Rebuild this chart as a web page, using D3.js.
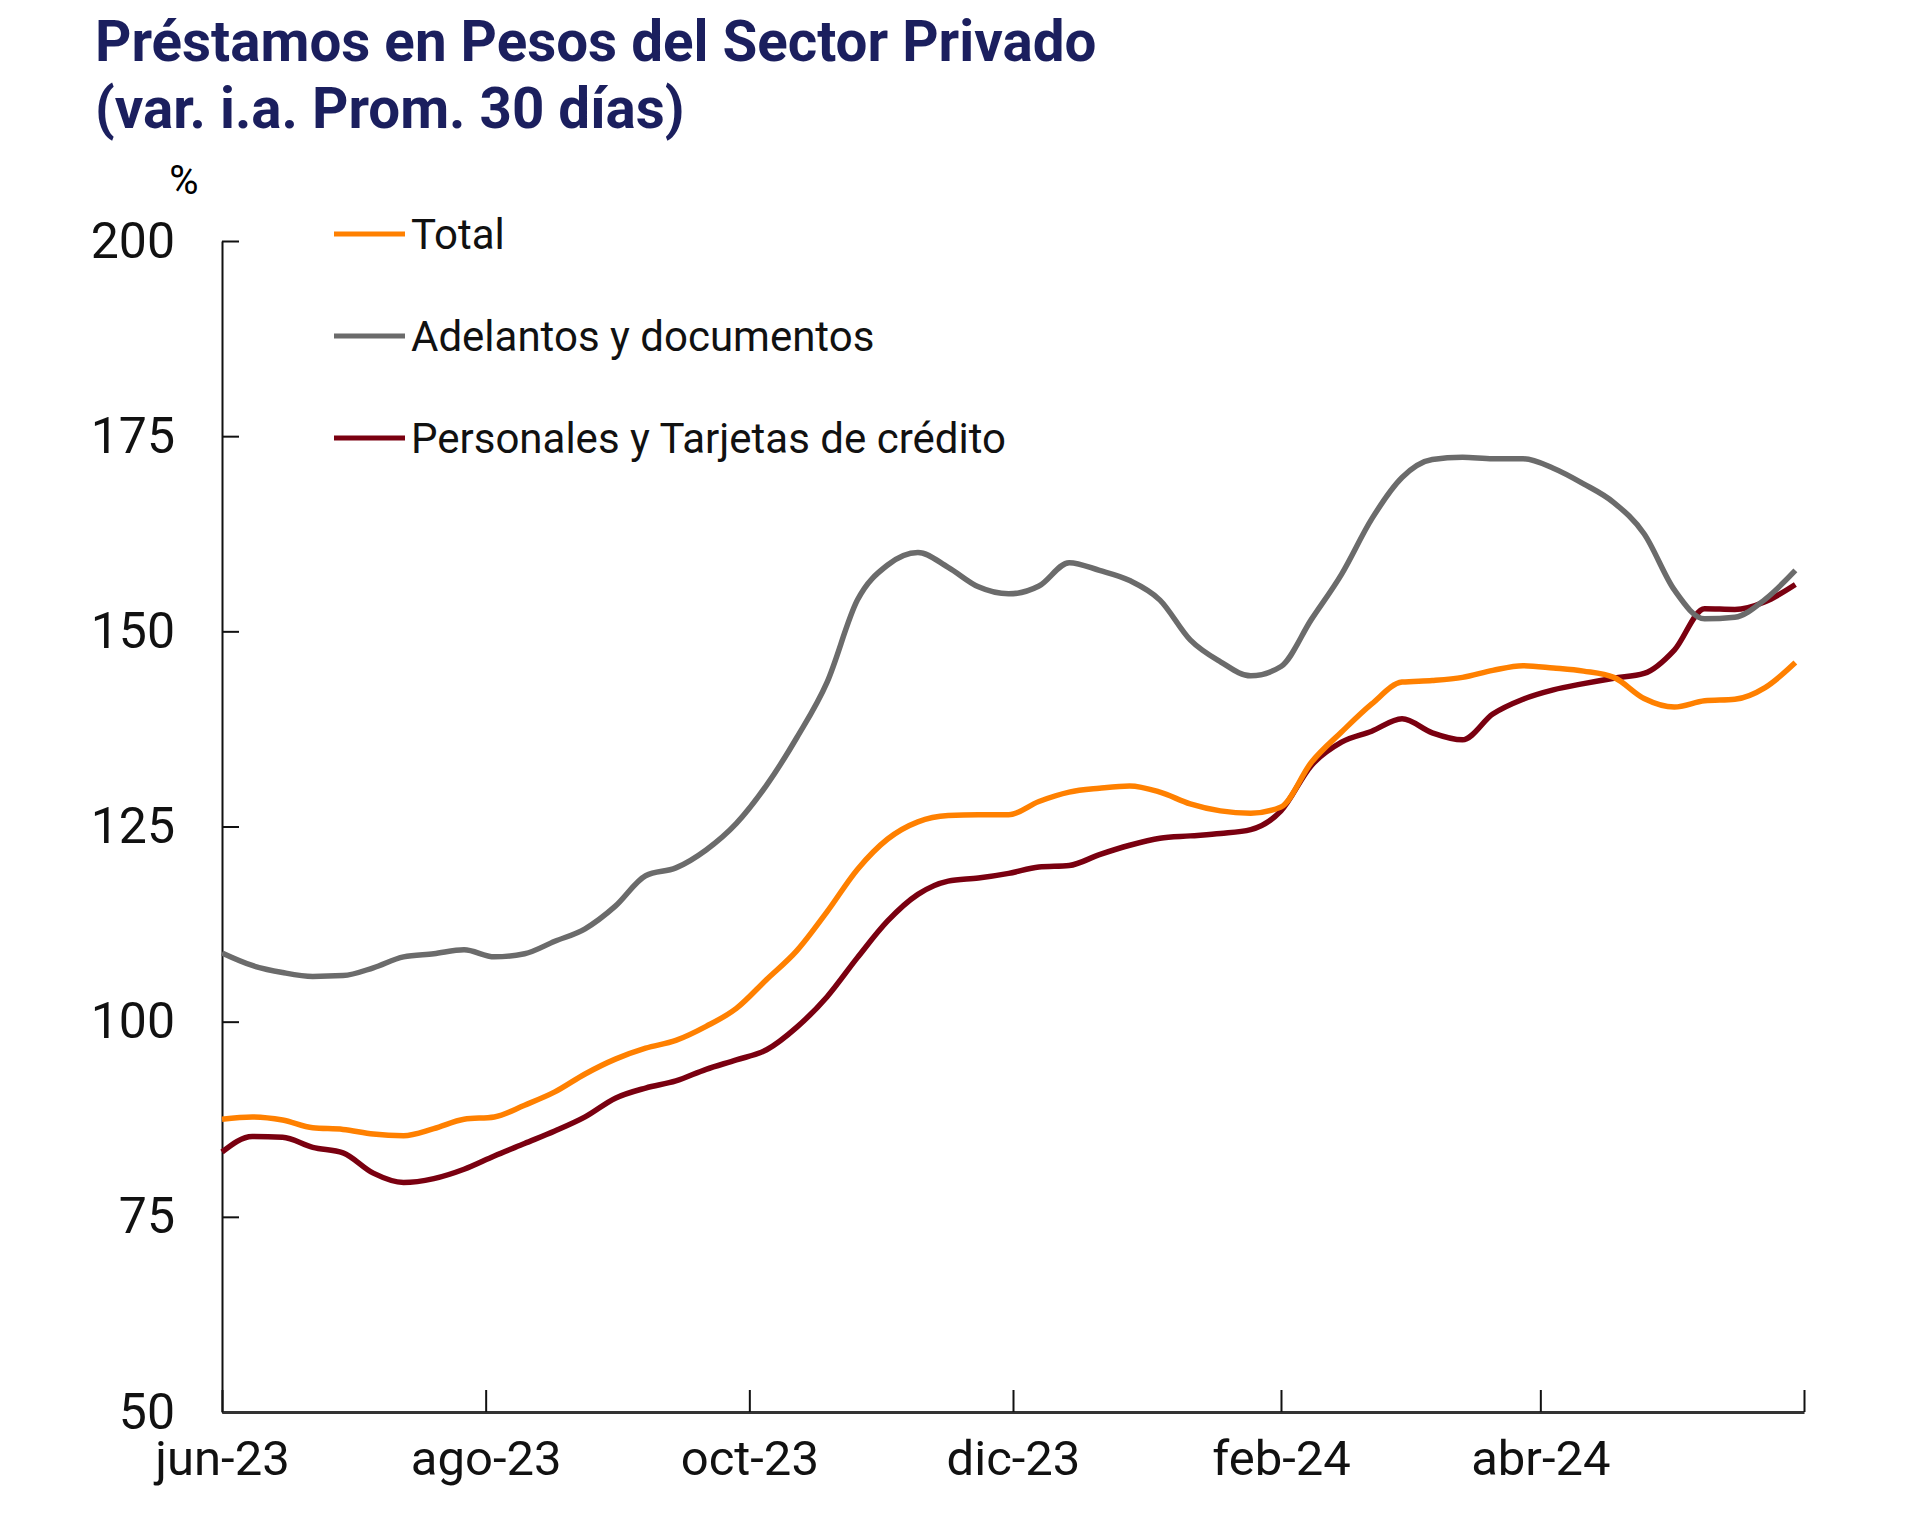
<!DOCTYPE html>
<html>
<head>
<meta charset="utf-8">
<script src="https://cdn.jsdelivr.net/npm/d3@7"></script>
<style>
  body { margin: 0; background: #fff; }
  text { font-family: Roboto, "Noto Sans", sans-serif; }
</style>
</head>
<body>
<script>
let svgWidth = 1920;
let svgHeight = 1515;

let margin = { top: 241, right: 116, bottom: 103, left: 222 };
let chartWidth = svgWidth - margin.left - margin.right;
let chartHeight = svgHeight - margin.top - margin.bottom;

// weekly readings, jun-23 to may-24
let dates = [
  "2023-06-01","2023-06-08","2023-06-15","2023-06-22","2023-06-29",
  "2023-07-06","2023-07-13","2023-07-20","2023-07-27",
  "2023-08-03","2023-08-10","2023-08-17","2023-08-24","2023-08-31",
  "2023-09-07","2023-09-14","2023-09-21","2023-09-28",
  "2023-10-05","2023-10-12","2023-10-19","2023-10-26",
  "2023-11-02","2023-11-09","2023-11-16","2023-11-23","2023-11-30",
  "2023-12-07","2023-12-14","2023-12-21","2023-12-28",
  "2024-01-04","2024-01-11","2024-01-18","2024-01-25",
  "2024-02-01","2024-02-08","2024-02-15","2024-02-22","2024-02-29",
  "2024-03-07","2024-03-14","2024-03-21","2024-03-28",
  "2024-04-04","2024-04-11","2024-04-18","2024-04-25",
  "2024-05-02","2024-05-09","2024-05-16","2024-05-23","2024-05-30"
];

let total = [
  87.5, 87.8, 87.4, 86.4, 86.2, 85.6, 85.4, 86.3, 87.5,
  87.8, 89.3, 91.0, 93.3, 95.2, 96.6, 97.6, 99.4, 101.7,
  105.4, 109.1, 114.1, 119.5, 123.4, 125.6, 126.4, 126.5, 126.5,
  128.2, 129.4, 129.9, 130.2, 129.4, 127.9, 127.0, 126.7,
  127.5, 133.2, 137.1, 140.7, 143.5, 143.7, 144.1, 145.0, 145.6,
  145.3, 144.9, 144.1, 141.4, 140.3, 141.1, 141.3, 142.8, 146.0
];

let adelantos = [
  108.8, 107.2, 106.3, 105.8, 105.9, 106.9, 108.3, 108.7, 109.2,
  108.3, 108.7, 110.3, 111.9, 114.8, 118.7, 119.7, 122.0, 125.4,
  130.3, 136.4, 143.5, 154.0, 158.5, 160.1, 158.2, 155.7, 154.8,
  155.8, 158.8, 157.8, 156.5, 154.0, 148.9, 146.1, 144.3,
  145.5, 151.5, 157.3, 164.4, 169.7, 172.0, 172.3, 172.1, 172.1,
  170.9, 168.9, 166.5, 162.5, 155.3, 151.6, 151.8, 154.1, 157.8
];

let personales = [
  83.3, 85.3, 85.2, 83.9, 83.2, 80.6, 79.4, 79.9, 81.1,
  82.8, 84.4, 86.0, 87.8, 90.2, 91.5, 92.4, 93.9, 95.1,
  96.4, 99.3, 103.2, 108.2, 112.9, 116.3, 118.0, 118.4, 119.0,
  119.8, 120.0, 121.4, 122.6, 123.5, 123.8, 124.1, 124.6,
  127.0, 132.8, 135.8, 137.2, 138.8, 137.0, 136.1, 139.4, 141.3,
  142.5, 143.3, 144.0, 144.6, 147.6, 152.9, 152.8, 153.8, 156.0
];

let seriesNames = ["Total", "Adelantos y documentos", "Personales y Tarjetas de crédito"];
let seriesColors = ["#ff8000", "#6b6b6b", "#7a0010"];
let yTicks = [50, 75, 100, 125, 150, 175, 200];
let xTickDates = ["2023-06-01","2023-08-01","2023-10-01","2023-12-01","2024-02-01","2024-04-01","2024-06-01"];
let xTickLabels = ["jun-23","ago-23","oct-23","dic-23","feb-24","abr-24",""];

let parseDate = d3.timeParse("%Y-%m-%d");
let xDates = dates.map(parseDate);
let tickDates = xTickDates.map(parseDate);

let svg = d3.select("body")
  .append("svg")
  .attr("width", svgWidth)
  .attr("height", svgHeight);

svg.append("rect")
  .attr("width", svgWidth)
  .attr("height", svgHeight)
  .attr("fill", "#fff");

// title
svg.append("text")
  .attr("x", 95).attr("y", 61)
  .attr("fill", "#1b1f5e")
  .attr("font-size", 56.5).attr("font-weight", 700)
  .text("Préstamos en Pesos del Sector Privado");
svg.append("text")
  .attr("x", 95).attr("y", 128)
  .attr("fill", "#1b1f5e")
  .attr("font-size", 56.5).attr("font-weight", 700)
  .text("(var. i.a. Prom. 30 días)");

svg.append("text")
  .attr("x", 184).attr("y", 194)
  .attr("text-anchor", "middle")
  .attr("font-size", 40)
  .text("%");

let chartGroup = svg.append("g")
  .attr("transform", `translate(${margin.left}, ${margin.top})`);

let xTimeScale = d3.scaleTime()
  .domain([tickDates[0], tickDates[tickDates.length - 1]])
  .range([0, chartWidth]);

let yLinearScale = d3.scaleLinear()
  .domain([50, 200])
  .range([chartHeight, 0]);

let bottomAxis = d3.axisBottom(xTimeScale)
  .tickValues(tickDates)
  .tickFormat((d, i) => xTickLabels[i])
  .tickSize(-22)
  .tickSizeOuter(0)
  .tickPadding(28);

let leftAxis = d3.axisLeft(yLinearScale)
  .tickValues(yTicks)
  .tickSize(-17)
  .tickSizeOuter(0)
  .tickPadding(47);

// Y Axis
let yAxisG = chartGroup.append("g")
  .call(leftAxis);
yAxisG.selectAll("text").attr("font-size", 50).attr("fill", "#111").style("font-family", "Roboto");
yAxisG.selectAll("line").attr("stroke", "#111").attr("stroke-width", 2);
yAxisG.select(".domain").attr("stroke", "#111").attr("stroke-width", 2);

// X Axis
let xAxisG = chartGroup.append("g")
  .attr("transform", `translate(0, ${chartHeight})`)
  .call(bottomAxis);
xAxisG.selectAll("text").attr("font-size", 49).attr("fill", "#111").style("font-family", "Roboto");
xAxisG.selectAll("line").attr("stroke", "#111").attr("stroke-width", 2);
xAxisG.select(".domain").attr("stroke", "#333").attr("stroke-width", 3);

let allSeries = [total, adelantos, personales];

let drawLine = d3.line()
  .x((d, i) => xTimeScale(xDates[i]))
  .y(d => yLinearScale(d))
  .curve(d3.curveMonotoneX);

// red first, then gray, then orange on top
[2, 1, 0].forEach(function(s) {
  chartGroup.append("path")
    .datum(allSeries[s])
    .attr("fill", "none")
    .attr("stroke", seriesColors[s])
    .attr("stroke-width", 5.5)
    .attr("stroke-linejoin", "round")
    .attr("d", drawLine);
});

// legend
let legend = svg.append("g");
seriesNames.forEach(function(name, i) {
  let ly = 234 + i * 102;
  legend.append("line")
    .attr("x1", 334).attr("x2", 405)
    .attr("y1", ly).attr("y2", ly)
    .attr("stroke", seriesColors[i])
    .attr("stroke-width", 5);
  legend.append("text")
    .attr("x", 411).attr("y", ly + 15)
    .attr("font-size", 42)
    .attr("fill", "#111")
    .text(name);
});
</script>
</body>
</html>
